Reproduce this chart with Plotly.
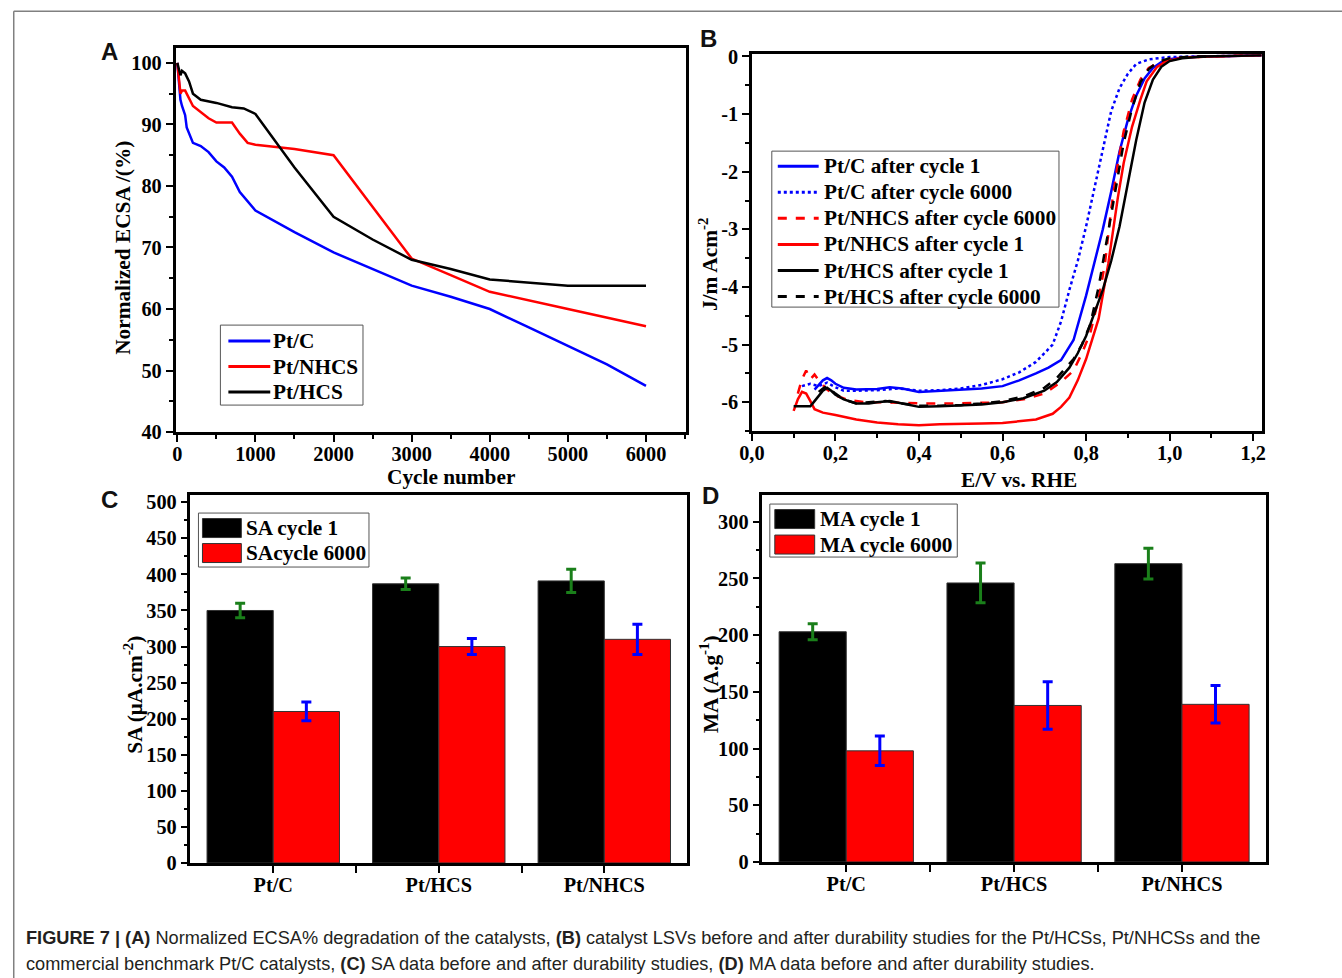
import plotly.graph_objects as go

# The captured picture shows the page slightly reduced and shifted by the page's
# default body margin; positions below are given in picture pixels and mapped back.
SX, OX = 0.991, 10.0
SY, OFF = 0.98, 8
W, H = 1350, 990
FS = 1.015  # font compensation for the reduction
SERIF = "Liberation Serif"
SANS = "Liberation Sans"

# ---------------- Panel A data ----------------
cyc_ptc = [0, 20, 40, 60, 100, 120, 200, 300, 400, 500, 600, 700, 800, 1000, 1500, 2000, 2500, 3000, 3500, 4000, 4500, 5000, 5500, 6000]
ecsa_ptc = [100, 97, 94, 93, 91.5, 89.5, 87, 86.5, 85.5, 84, 83, 81.5, 79, 76, 72.5, 69.2, 66.5, 63.8, 62, 60, 57, 54, 51, 47.5]
cyc_nhcs = [0, 20, 40, 60, 100, 200, 300, 400, 500, 700, 800, 900, 1000, 1500, 2000, 2500, 3000, 3500, 4000, 5000, 6000]
ecsa_nhcs = [100, 97, 95, 95.5, 95.5, 93, 92, 91, 90.3, 90.3, 88.5, 87, 86.7, 86, 85, 76.5, 68.2, 65.5, 62.8, 60, 57.2]
cyc_hcs = [0, 20, 40, 60, 100, 150, 200, 300, 500, 700, 850, 1000, 1500, 2000, 2500, 3000, 3500, 4000, 4500, 5000, 6000]
ecsa_hcs = [100, 99, 98, 98.7, 98.3, 97, 95, 94, 93.5, 92.8, 92.6, 91.7, 83, 75, 71.3, 68, 66.5, 64.8, 64.3, 63.8, 63.8]
a_names = ["Pt/C", "Pt/NHCS", "Pt/HCS"]

# ---------------- Panel B data ----------------
e_ptc1 = [0.15, 0.16, 0.17, 0.18, 0.19, 0.20, 0.22, 0.25, 0.28, 0.30, 0.33, 0.36, 0.40, 0.45, 0.50, 0.55, 0.60, 0.64, 0.68, 0.71, 0.74, 0.77, 0.80, 0.82, 0.84, 0.86, 0.88, 0.90, 0.92, 0.94, 0.96, 0.98, 1.00, 1.03, 1.08, 1.15, 1.22]
j_ptc1 = [-5.78, -5.70, -5.62, -5.58, -5.62, -5.68, -5.75, -5.78, -5.78, -5.77, -5.74, -5.76, -5.82, -5.80, -5.79, -5.76, -5.72, -5.62, -5.50, -5.40, -5.27, -4.92, -4.15, -3.60, -3.00, -2.35, -1.65, -1.10, -0.68, -0.38, -0.20, -0.10, -0.05, -0.02, 0.0, 0.01, 0.02]
e_ptc6 = [0.12, 0.14, 0.16, 0.18, 0.20, 0.22, 0.25, 0.30, 0.35, 0.40, 0.45, 0.50, 0.55, 0.60, 0.64, 0.68, 0.72, 0.74, 0.76, 0.78, 0.80, 0.82, 0.84, 0.86, 0.88, 0.90, 0.92, 0.95, 1.00, 1.10, 1.22]
j_ptc6 = [-5.72, -5.68, -5.72, -5.66, -5.74, -5.80, -5.80, -5.79, -5.76, -5.80, -5.79, -5.76, -5.70, -5.60, -5.48, -5.30, -5.00, -4.60, -4.05, -3.55, -2.95, -2.30, -1.60, -0.95, -0.55, -0.30, -0.13, -0.05, -0.01, 0.0, 0.02]
e_nhcs6 = [0.11, 0.12, 0.13, 0.14, 0.15, 0.16, 0.18, 0.20, 0.23, 0.27, 0.32, 0.40, 0.50, 0.60, 0.65, 0.70, 0.74, 0.77, 0.79, 0.81, 0.83, 0.845, 0.86, 0.875, 0.89, 0.91, 0.93, 0.95, 0.98, 1.02, 1.10, 1.18]
j_nhcs6 = [-5.85, -5.60, -5.45, -5.60, -5.52, -5.62, -5.78, -5.88, -5.96, -6.00, -6.00, -6.02, -6.02, -6.00, -5.95, -5.85, -5.65, -5.45, -5.15, -4.80, -4.20, -3.60, -2.65, -1.90, -1.30, -0.75, -0.40, -0.20, -0.08, -0.02, 0.0, 0.02]
e_nhcs1 = [0.10, 0.11, 0.12, 0.13, 0.14, 0.15, 0.17, 0.20, 0.25, 0.30, 0.35, 0.40, 0.45, 0.50, 0.55, 0.60, 0.65, 0.68, 0.72, 0.74, 0.76, 0.78, 0.80, 0.83, 0.853, 0.876, 0.89, 0.91, 0.93, 0.945, 0.97, 0.99, 1.03, 1.10, 1.22]
j_nhcs1 = [-6.15, -5.95, -5.82, -5.85, -5.98, -6.12, -6.18, -6.22, -6.30, -6.35, -6.38, -6.40, -6.38, -6.38, -6.37, -6.36, -6.33, -6.30, -6.20, -6.08, -5.92, -5.62, -5.25, -4.55, -3.60, -2.45, -1.85, -1.22, -0.75, -0.43, -0.18, -0.09, -0.02, 0.0, 0.02]
e_hcs1 = [0.10, 0.12, 0.14, 0.15, 0.16, 0.17, 0.18, 0.19, 0.20, 0.22, 0.25, 0.28, 0.30, 0.33, 0.36, 0.40, 0.45, 0.50, 0.55, 0.60, 0.65, 0.70, 0.73, 0.76, 0.78, 0.80, 0.82, 0.84, 0.86, 0.88, 0.90, 0.92, 0.94, 0.96, 0.98, 1.00, 1.03, 1.08, 1.22]
j_hcs1 = [-6.07, -6.07, -6.07, -5.98, -5.88, -5.80, -5.75, -5.80, -5.87, -5.95, -6.02, -6.02, -6.00, -5.98, -6.02, -6.08, -6.07, -6.06, -6.04, -6.00, -5.93, -5.80, -5.65, -5.40, -5.15, -4.85, -4.45, -4.05, -3.55, -2.95, -2.20, -1.45, -0.80, -0.40, -0.18, -0.08, -0.03, 0.0, 0.02]
e_hcs6 = [0.16, 0.17, 0.18, 0.19, 0.20, 0.22, 0.25, 0.28, 0.32, 0.36, 0.40, 0.45, 0.50, 0.55, 0.60, 0.65, 0.70, 0.73, 0.75, 0.77, 0.79, 0.81, 0.83, 0.85, 0.87, 0.89, 0.91, 0.93, 0.95, 0.97, 1.00, 1.05, 1.10]
j_hcs6 = [-5.82, -5.76, -5.72, -5.78, -5.85, -5.95, -6.02, -6.00, -5.98, -6.02, -6.06, -6.06, -6.05, -6.02, -5.98, -5.90, -5.75, -5.58, -5.42, -5.25, -5.00, -4.65, -4.00, -3.15, -2.30, -1.50, -0.90, -0.45, -0.22, -0.10, -0.03, 0.0, 0.0]
b_names = ["Pt/C after cycle 1", "Pt/C after cycle 6000", "Pt/NHCS after cycle 6000",
           "Pt/NHCS after cycle 1", "Pt/HCS after cycle 1", "Pt/HCS after cycle 6000"]

b_xtickvals = [0.0, 0.2, 0.4, 0.6, 0.8, 1.0, 1.2]
b_xticktext = ["0,0", "0,2", "0,4", "0,6", "0,8", "1,0", "1,2"]
b_ytickvals = [0, -1, -2, -3, -4, -5, -6]
b_yticktext = ["0", "-1", "-2", "-3", "-4", "-5", "-6"]

# ---------------- Panel C / D data ----------------
catalysts = ["Pt/C", "Pt/HCS", "Pt/NHCS"]
cat_pos = [0, 1, 2]
sa_cycle1 = [350, 387, 391]
sa_cycle1_err = [10, 8, 16]
sa_cycle6000 = [210, 300, 310]
sa_cycle6000_err = [13, 11, 21]
ma_cycle1 = [203, 246, 263]
ma_cycle1_err = [7, 17.5, 13.5]
ma_cycle6000 = [98, 138, 139]
ma_cycle6000_err = [13, 21, 16.5]
c_names = ["SA cycle 1", "SAcycle 6000"]
d_names = ["MA cycle 1", "MA cycle 6000"]

# ---------------- helpers ----------------
def px_x(p):
    return max(0.75, (p - OX) / SX) / W

def px_y(p):
    return 1 - (p / SY - OFF) / H

def tfont(size=20):
    return dict(family=SERIF, size=round(size * FS, 1), color="black", weight="bold")

def axis_style(**kw):
    d = dict(showline=True, linecolor="black", linewidth=2.5, mirror=True,
             ticks="outside", ticklen=7, tickwidth=2, tickcolor="black",
             showgrid=False, zeroline=False, tickfont=tfont(20))
    d.update(kw)
    return d

def minor(dt, ln=4):
    return dict(dtick=dt, tick0=0, ticklen=ln, tickwidth=2, ticks="outside", tickcolor="black")

fig = go.Figure()

# Panel A traces
a_colors = ["#0000ff", "#ff0000", "#000000"]
for xs, ys, nm, col in zip([cyc_ptc, cyc_nhcs, cyc_hcs], [ecsa_ptc, ecsa_nhcs, ecsa_hcs], a_names, a_colors):
    fig.add_trace(go.Scatter(x=xs, y=ys, mode="lines", name=nm,
                             line=dict(color=col, width=2.5), xaxis="x", yaxis="y"))

# Panel B traces
b_colors = ["#0000ff", "#0000ff", "#ff0000", "#ff0000", "#000000", "#000000"]
b_dashes = ["solid", "dot", "dash", "solid", "solid", "dash"]
b_x = [e_ptc1, e_ptc6, e_nhcs6, e_nhcs1, e_hcs1, e_hcs6]
b_y = [j_ptc1, j_ptc6, j_nhcs6, j_nhcs1, j_hcs1, j_hcs6]
for ex, jy, nm, col, dash in zip(b_x, b_y, b_names, b_colors, b_dashes):
    fig.add_trace(go.Scatter(x=ex, y=jy, mode="lines", name=nm,
                             line=dict(color=col, width=2.5, dash=dash),
                             xaxis="x2", yaxis="y2"))

# Panel C / D traces
bar_cols = ["#000000", "#ff0000"]
err_cols = ["#1a7f1a", "#0000ff"]
for vals, errs, nm, bc, ec in zip([sa_cycle1, sa_cycle6000], [sa_cycle1_err, sa_cycle6000_err], c_names, bar_cols, err_cols):
    fig.add_trace(go.Bar(x=cat_pos, y=vals, name=nm,
                         marker=dict(color=bc, line=dict(color="#333333", width=1)),
                         error_y=dict(type="data", array=errs, color=ec, thickness=3, width=5),
                         xaxis="x3", yaxis="y3"))
for vals, errs, nm, bc, ec in zip([ma_cycle1, ma_cycle6000], [ma_cycle1_err, ma_cycle6000_err], d_names, bar_cols, err_cols):
    fig.add_trace(go.Bar(x=cat_pos, y=vals, name=nm,
                         marker=dict(color=bc, line=dict(color="#333333", width=1)),
                         error_y=dict(type="data", array=errs, color=ec, thickness=3, width=5),
                         xaxis="x4", yaxis="y4"))

cat_minor = dict(tickmode="array", tickvals=[0.5, 1.5], ticklen=7, tickwidth=2,
                 ticks="outside", tickcolor="black")

fig.update_layout(
    width=W, height=H,
    margin=dict(l=0, r=0, t=0, b=0),
    paper_bgcolor="white", plot_bgcolor="white",
    barmode="group", bargap=0.2, bargroupgap=0,
    showlegend=False,
    xaxis=axis_style(domain=[px_x(173), px_x(685)], anchor="y", range=[-23, 6513],
                     dtick=1000, tick0=0, minor=minor(500), ticklabelstandoff=-5),
    yaxis=axis_style(domain=[px_y(431), px_y(47)], anchor="x", range=[40, 102.4],
                     dtick=10, tick0=0, minor=minor(5)),
    xaxis2=axis_style(domain=[px_x(751), px_x(1263)], anchor="y2", range=[0, 1.222],
                      tickmode="array", tickvals=b_xtickvals, ticktext=b_xticktext,
                      minor=minor(0.1), ticklabelstandoff=-5),
    yaxis2=axis_style(domain=[px_y(430), px_y(53)], anchor="x2", range=[-6.5, 0.04],
                      tickmode="array", tickvals=b_ytickvals, ticktext=b_yticktext,
                      minor=minor(0.5)),
    xaxis3=axis_style(domain=[px_x(188), px_x(686)], anchor="y3", range=[-0.5, 2.5],
                      tickmode="array", tickvals=cat_pos, ticktext=catalysts, minor=cat_minor,
                      ticklabelstandoff=-5),
    yaxis3=axis_style(domain=[px_y(862), px_y(494)], anchor="x3", range=[0, 510],
                      dtick=50, tick0=0, minor=minor(25)),
    xaxis4=axis_style(domain=[px_x(761.5), px_x(1266.5)], anchor="y4", range=[-0.5, 2.5],
                      tickmode="array", tickvals=cat_pos, ticktext=catalysts, minor=cat_minor,
                      ticklabelstandoff=-5),
    yaxis4=axis_style(domain=[px_y(861), px_y(494)], anchor="x4", range=[0, 323.5],
                      dtick=50, tick0=0, minor=minor(25)),
)

def text_at(txt, x, y, font, xanchor="center", angle=0):
    fig.add_annotation(text=txt, x=px_x(x), y=px_y(y), xref="paper", yref="paper",
                       showarrow=False, xanchor=xanchor, yanchor="middle",
                       textangle=angle, font=font)

# axis titles
text_at("Cycle number", 449, 476, tfont(21))
text_at("E/V vs. RHE", 1019, 479, tfont(21))
text_at("Normalized ECSA /(%)", 120, 247, tfont(21), angle=-90)
text_at("J/m Acm<sup>-2</sup>", 707, 263, tfont(21), angle=-90)
text_at("SA (\u03bcA.cm<sup>-2</sup>)", 130, 694, tfont(21), angle=-90)
text_at("MA (A.g<sup>-1</sup>)", 708, 683, tfont(21), angle=-90)

# ---------- legends (drawn as boxes, samples and text) ----------
def legend_box(x0, y0, x1, y1):
    fig.add_shape(type="rect", xref="paper", yref="paper",
                  x0=px_x(x0), y0=px_y(y0), x1=px_x(x1), y1=px_y(y1),
                  line=dict(color="#555555", width=1), fillcolor="white", layer="above")

def legend_line(x0, x1, y, col, dash):
    fig.add_shape(type="line", xref="paper", yref="paper",
                  x0=px_x(x0), y0=px_y(y), x1=px_x(x1), y1=px_y(y),
                  line=dict(color=col, width=3, dash=dash), layer="above")

def legend_swatch(x0, y0, x1, y1, col):
    fig.add_shape(type="rect", xref="paper", yref="paper",
                  x0=px_x(x0), y0=px_y(y0), x1=px_x(x1), y1=px_y(y1),
                  line=dict(color="#333333", width=1), fillcolor=col, layer="above")

# Legend A
legend_box(218, 324, 361, 404)
for i, (nm, col) in enumerate(zip(a_names, a_colors)):
    yc = 340 + i * 25.5
    legend_line(226, 268, yc, col, "solid")
    text_at(nm, 269, yc, tfont(21), xanchor="left")

# Legend B
legend_box(771, 150, 1059, 306)
for i, (nm, col, dash) in enumerate(zip(b_names, b_colors, b_dashes)):
    yc = 165 + i * 26.1
    legend_line(777, 818, yc, col, dash)
    text_at(nm, 821, yc, tfont(21), xanchor="left")

# Legend C
legend_box(196, 512, 367, 566)
for i, (nm, col) in enumerate(zip(c_names, bar_cols)):
    yc = 527 + i * 25
    legend_swatch(200, yc - 9.5, 239, yc + 9.5, col)
    text_at(nm, 242, yc, tfont(21), xanchor="left")

# Legend D
legend_box(769, 503, 957, 556)
for i, (nm, col) in enumerate(zip(d_names, bar_cols)):
    yc = 518 + i * 25.5
    legend_swatch(774, yc - 9.5, 814, yc + 9.5, col)
    text_at(nm, 817, yc, tfont(21), xanchor="left")

# panel letters
for letter, lx, ly in [("A", 107, 50), ("B", 708, 37), ("C", 107, 498), ("D", 710, 494)]:
    text_at(letter, lx, ly, dict(family=SANS, size=24, color="#111111", weight="bold"))

# caption
cap1 = ("<b>FIGURE 7 | (A)</b> Normalized ECSA% degradation of the catalysts, <b>(B)</b> catalyst LSVs "
        "before and after durability studies for the Pt/HCSs, Pt/NHCSs and the")
cap2 = ("commercial benchmark Pt/C catalysts, <b>(C)</b> SA data before and after durability studies, "
        "<b>(D)</b> MA data before and after durability studies.")
for txt, cy in [(cap1, 937), (cap2, 963)]:
    text_at(txt, 21, cy, dict(family=SANS, size=18.2, color="#231f20"), xanchor="left")

# frame lines
fig.add_shape(type="line", xref="paper", yref="paper", x0=px_x(9), y0=px_y(10), x1=1, y1=px_y(10),
              line=dict(color="#808080", width=1.5))
fig.add_shape(type="line", xref="paper", yref="paper", x0=px_x(9), y0=px_y(10), x1=px_x(9), y1=0,
              line=dict(color="#808080", width=1.5))

fig.write_html("out.html")
